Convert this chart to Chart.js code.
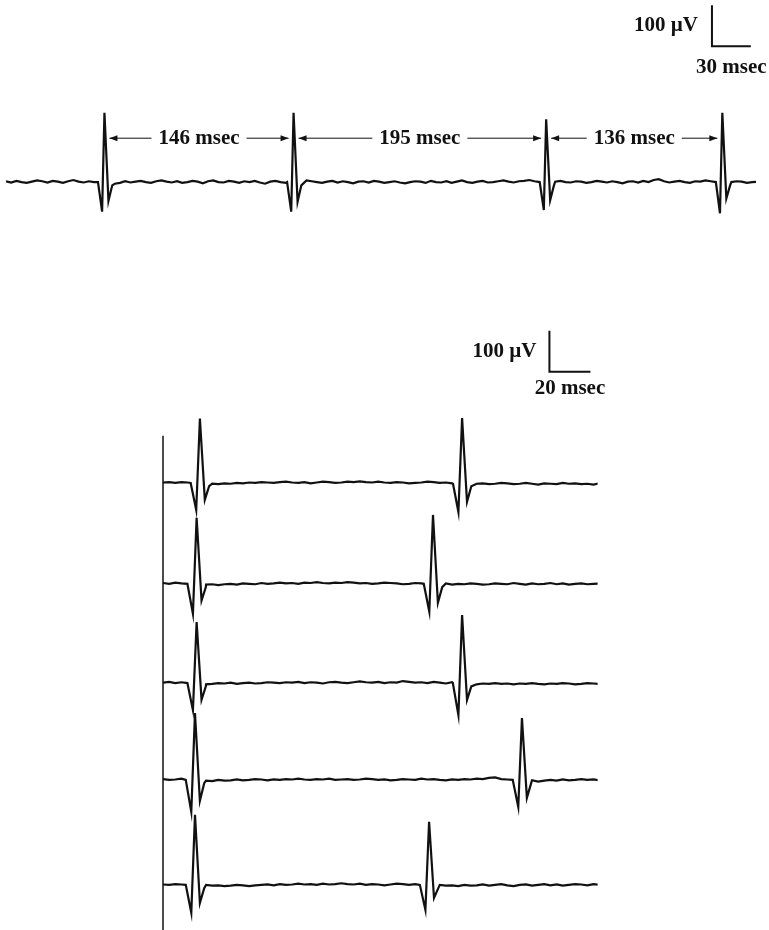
<!DOCTYPE html>
<html>
<head>
<meta charset="utf-8">
<script src="https://cdn.jsdelivr.net/npm/chart.js@4.4.1/dist/chart.umd.min.js"></script>
<style>
  html, body { margin: 0; padding: 0; background: #fff; }
  body { width: 769px; height: 930px; position: relative; overflow: hidden; }
  canvas { position: absolute; left: 0; }
  #topTrace { top: 0; }
  #bottomTraces { top: 300px; }
</style>
</head>
<body>
<canvas id="topTrace" width="769" height="260"></canvas>
<canvas id="bottomTraces" width="769" height="630"></canvas>
<script>
// ---- datos: registro superior (ms, µV) ----
const topDt = 4; // ms entre muestras de la linea base
const topNoise = [
  2, -1, 3, 0, -2, 1, 4, 2, -1, 3, 1, -2, 2, 5, 1,
  -1, 2, 0, -3, 1, 3, -4, -2, 2, -1, 1, 3, 0, -2, 2,
  4, 1, -1, 2, -2, 0, 3, 1, -3, 2, 4, 0, -1, 3, 1,
  -2, 2, 0, 3, -1, -4, 1, 3, 0, -2, 2, 1, -1, 4, 2,
  0, -2, 1, 3, -1, 2, 0, -3, 1, 2, -1, 3, 1, -2, 0,
  2, -1, -3, 0, 2, 1, -2, 3, 0, -1, 2, -2, 1, 4, 0,
  -2, 1, 3, -1, 0, 2, 4, 1, -1, 2, 3, 5, 2, 4, 1,
  -2, 1, 3, 0, -1, 2, 1, -2, 0, 3, 1, -1, 2, 0, -3,
  1, 2, -1, 3, 0, 5, 7, 2, -1, 1, 3, 0, -2, 2, 1,
  4, 2, -1, 1, -3, 0, 2, 1, -2, 0, 1, -1
];
const topSpikeTimes = [76, 222, 417, 553];
const topPeaks = [169, 169, 153, 169];
const topTroughs = [-72, -72, -68, -76];
const topTroughs2 = [-46, -48, -44, -40];

// ---- datos: cinco registros inferiores ----
const bottomDt = 3;
const noise1 = [1, 2, 0, 2, 1, -1, 0, 1, -2, -3, -1, -2, 0, -1, 1, 0, 2, 1, 0, 2, 3, 1, 0, 2, -1, 1, 3, 2, 0, 1, 3, 2, 4, 2, 1, 3, 1, 0, 2, 1, -1, 0, 1, 3, 2, 0, 1, -1, -2, 0, -3, -2, -1, -3, -2, 0, -1, -3, -2, 0, -2, -4, -1, -2, -3, 0, -2, -1, -3, -2, -4, -1, -3];
const noise2 = [2, 0, 3, 1, -1, 2, 0, -2, -1, -3, -1, 0, -2, 1, 0, -1, 2, 0, 1, 3, 1, 2, 0, 3, 2, 4, 2, 1, 3, 2, 4, 3, 1, 2, 0, 1, 3, 2, 1, -1, 0, 2, 1, 3, 0, -1, 1, -2, 0, -1, 1, 0, -2, -1, 1, 0, -1, 2, 0, -2, 1, -1, 0, 2, -1, 1, -2, 0, 1, -1, 0, 1, -1];
const noise3 = [1, 3, 0, 2, -1, 1, 0, -3, -2, 0, -1, 1, -2, 0, 1, -1, 0, 2, 1, 0, 2, 1, 3, 0, 2, 1, -1, 2, 3, 1, 0, 2, 4, 2, 1, 3, 0, 2, 1, 5, 3, 1, 2, 0, 3, 1, -1, 2, 1, -2, -1, -3, -1, -2, 0, -2, -1, -3, -1, -2, 0, -2, -3, -1, -2, 0, -1, -3, -2, 0, -1, -2, 0];
const noise4 = [2, 0, 1, 3, 0, 1, -1, -2, -3, 0, -2, -1, 1, -1, 0, 2, 1, -1, 1, 0, 2, 1, 3, 1, 0, 2, 1, 3, 0, 1, 2, 0, 1, 3, 2, 0, 1, -1, 0, 2, 1, 0, 3, 1, 2, 0, -1, 1, 0, 2, 1, 3, 2, 5, 6, 2, 1, -2, 0, -3, -1, -4, -2, 0, -2, 1, -1, 0, 2, 0, 1, -1, 1];
const noise5 = [1, 0, 2, 1, 0, -1, 1, 0, -2, -1, -3, -2, 0, -1, -3, -1, 0, 1, -1, 2, 0, 1, 3, 1, 2, 0, 3, 1, 2, 4, 2, 1, 3, 0, 2, 1, -1, 1, 3, 2, 0, 2, 4, 1, -1, 0, -2, -1, -3, 0, -2, -1, 1, -2, 0, 2, -1, -3, 0, 1, -2, 0, 2, -1, 1, -2, 0, 2, 1, -1, 2, 0, 1];
const bottomNoise = [noise1, noise2, noise3, noise4, noise5];
const bottomSpikeTimes = [[18.0, 145.9], [16.4, 131.7], [16.4, 145.9], [15.6, 175.1], [15.6, 129.8]];
const bottomPeaks = [[157, 158], [161, 168], [149, 166], [163, 151], [171, 154]];
const bottomTroughs = [[-66, -71], [-73, -68], [-66, -78], [-78, -66], [-68, -61]];
const bottomTroughs2 = [[-41, -46], [-41, -46], [-41, -41], [-51, -44], [-44, -32]];

// forma de la espiga: [inicio, valle, segundo valle, fin] en ms respecto al pico
const topShape = [-5, -1.8, 3.1, 6];
const bottomShape = [-4.5, -1.8, 2.4, 4.5];
// separacion vertical de los registros inferiores (µV)
const traceOffsets = [0, -246, -488, -724, -980];

function buildTrace(noise, dt, times, peaks, troughs, troughs2, shape, offset) {
  const [tPre, tTr, tTr2, tPost] = shape;
  const pts = [];
  noise.forEach((v, i) => {
    const t = i * dt;
    if (!times.some(s => t >= s + tPre && t <= s + tPost)) pts.push({ x: t, y: v + offset });
  });
  times.forEach((s, k) => {
    pts.push({ x: s + tPre, y: offset });
    pts.push({ x: s + tTr, y: troughs[k] + offset });
    pts.push({ x: s, y: peaks[k] + offset });
    pts.push({ x: s + tTr2, y: troughs2[k] + offset });
    pts.push({ x: s + tPost, y: -8 + offset });
  });
  return pts.sort((a, b) => a.x - b.x);
}

const FONT = 'bold 21px "Liberation Serif", "Times New Roman", serif';
const INK = '#111';

function arrowHead(ctx, x, y, dir) {
  ctx.beginPath();
  ctx.moveTo(x, y);
  ctx.lineTo(x - dir * 8, y - 3);
  ctx.lineTo(x - dir * 8, y + 3);
  ctx.closePath();
  ctx.fill();
}

// escala, flechas de intervalo y linea vertical
const decorPlugin = {
  id: 'decor',
  afterDraw(chart, args, opts) {
    const { ctx, scales: { x, y } } = chart;
    ctx.save();
    ctx.fillStyle = INK;
    ctx.strokeStyle = INK;
    ctx.font = FONT;

    const b = opts.bar;
    if (b) {
      const x0 = x.getPixelForValue(b.t), y0 = y.getPixelForValue(b.v);
      const x1 = x.getPixelForValue(b.t + b.ms), y1 = y.getPixelForValue(b.v + b.uv);
      ctx.lineWidth = 2;
      ctx.beginPath();
      ctx.moveTo(x0, y1); ctx.lineTo(x0, y0); ctx.lineTo(x1, y0);
      ctx.stroke();
      ctx.textBaseline = 'middle';
      ctx.textAlign = 'right';
      ctx.fillText(b.uv + ' µV', x0 - b.gapLeft, (y0 + y1) / 2);
      ctx.textAlign = 'center';
      ctx.fillText(b.ms + ' msec', (x0 + x1) / 2, y0 + b.gapBelow);
    }

    const iv = opts.intervals;
    if (iv) {
      const yy = y.getPixelForValue(iv.v);
      ctx.lineWidth = 1;
      ctx.textAlign = 'center';
      ctx.textBaseline = 'middle';
      for (let k = 1; k < iv.times.length; k++) {
        const p1 = x.getPixelForValue(iv.times[k - 1]);
        const p2 = x.getPixelForValue(iv.times[k]);
        const label = Math.round(iv.times[k] - iv.times[k - 1]) + ' msec';
        const cx = (p1 + p2) / 2;
        const w = ctx.measureText(label).width;
        ctx.fillText(label, cx, yy);
        const a = p1 + 5, bb = p2 - 5;
        ctx.beginPath();
        ctx.moveTo(a, yy); ctx.lineTo(cx - w / 2 - 7, yy);
        ctx.moveTo(cx + w / 2 + 7, yy); ctx.lineTo(bb, yy);
        ctx.stroke();
        arrowHead(ctx, a, yy, -1);
        arrowHead(ctx, bb, yy, 1);
      }
    }

    const ax = opts.axisLine;
    if (ax) {
      const px = x.getPixelForValue(0);
      ctx.lineWidth = 1.5;
      ctx.beginPath();
      ctx.moveTo(px, y.getPixelForValue(ax.top));
      ctx.lineTo(px, chart.height);
      ctx.stroke();
    }
    ctx.restore();
  }
};

function traceOptions(xMax, yMin, yMax, padding, decor) {
  return {
    responsive: false,
    animation: false,
    events: [],
    layout: { padding },
    elements: { point: { radius: 0 }, line: { tension: 0, borderWidth: 2.2, borderColor: INK } },
    scales: {
      x: { type: 'linear', min: 0, max: xMax, display: false },
      y: { type: 'linear', min: yMin, max: yMax, display: false }
    },
    plugins: { legend: { display: false }, tooltip: { enabled: false }, decor }
  };
}

new Chart(document.getElementById('topTrace'), {
  type: 'line',
  data: {
    datasets: [{
      data: buildTrace(topNoise, topDt, topSpikeTimes, topPeaks, topTroughs, topTroughs2, topShape, 0),
      borderColor: INK, fill: false
    }]
  },
  options: traceOptions(579, -190, 444, { left: 6, right: 13, top: 0, bottom: 0 }, {
    bar: { t: 545, v: 331, ms: 30, uv: 100, gapLeft: 14, gapBelow: 21 },
    intervals: { times: topSpikeTimes, v: 107 }
  }),
  plugins: [decorPlugin]
});

new Chart(document.getElementById('bottomTraces'), {
  type: 'line',
  data: {
    datasets: bottomNoise.map((n, i) => ({
      data: buildTrace(n, bottomDt, bottomSpikeTimes[i], bottomPeaks[i], bottomTroughs[i],
        bottomTroughs2[i], bottomShape, traceOffsets[i]),
      borderColor: INK, fill: false
    }))
  },
  options: traceOptions(212, -1090, 446, { left: 163, right: 171.4, top: 0, bottom: 0 }, {
    bar: { t: 188.5, v: 271, ms: 20, uv: 100, gapLeft: 13, gapBelow: 17 },
    axisLine: { top: 115 }
  }),
  plugins: [decorPlugin]
});
</script>
</body>
</html>
